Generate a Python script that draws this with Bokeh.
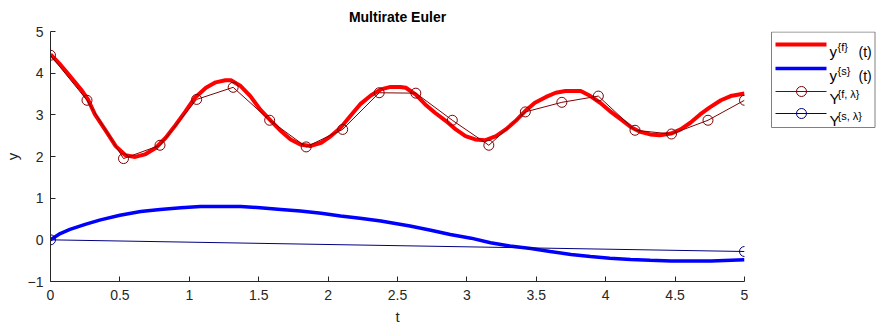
from bokeh.plotting import figure
from bokeh.models import Range1d, FixedTicker
from bokeh.layouts import row
from bokeh.embed import file_html
from bokeh.resources import INLINE
from bokeh.core.properties import value

# ---- data ----
t_cont_f = [0.00, 0.07, 0.14, 0.22, 0.27, 0.32, 0.40, 0.47, 0.54, 0.61, 0.68, 0.76, 0.83, 0.90, 0.97,
            1.04, 1.12, 1.19, 1.26, 1.30, 1.37, 1.44, 1.51, 1.59, 1.66, 1.73, 1.80, 1.87, 1.95, 2.02,
            2.09, 2.16, 2.23, 2.31, 2.38, 2.45, 2.52, 2.56, 2.63, 2.70, 2.77, 2.85, 2.92, 2.99, 3.06,
            3.13, 3.21, 3.28, 3.35, 3.42, 3.49, 3.57, 3.64, 3.71, 3.78, 3.82, 3.89, 3.96, 4.03, 4.11,
            4.18, 4.25, 4.32, 4.39, 4.47, 4.54, 4.61, 4.68, 4.75, 4.83, 4.90, 5.00]
y_cont_f = [4.45, 4.21, 3.93, 3.61, 3.37, 3.01, 2.61, 2.25, 2.03, 1.99, 2.05, 2.21, 2.45, 2.75, 3.07,
            3.41, 3.65, 3.78, 3.83, 3.83, 3.69, 3.45, 3.13, 2.85, 2.61, 2.41, 2.29, 2.25, 2.33, 2.49,
            2.69, 2.97, 3.25, 3.47, 3.61, 3.67, 3.67, 3.65, 3.49, 3.25, 3.05, 2.85, 2.65, 2.49, 2.41,
            2.39, 2.49, 2.65, 2.85, 3.09, 3.29, 3.43, 3.53, 3.57, 3.57, 3.57, 3.45, 3.29, 3.09, 2.89,
            2.71, 2.59, 2.53, 2.51, 2.55, 2.65, 2.81, 3.01, 3.18, 3.35, 3.45, 3.51]

t_cont_s = [0.00, 0.07, 0.14, 0.25, 0.36, 0.50, 0.65, 0.79, 0.94, 1.08, 1.22, 1.37, 1.51, 1.66, 1.80,
            1.95, 2.09, 2.23, 2.38, 2.59, 2.74, 2.88, 3.03, 3.17, 3.31, 3.46, 3.60, 3.75, 3.89, 4.03,
            4.18, 4.32, 4.47, 4.61, 4.76, 5.00]
y_cont_s = [0.00, 0.15, 0.25, 0.37, 0.48, 0.59, 0.68, 0.73, 0.77, 0.80, 0.80, 0.80, 0.77, 0.73, 0.69,
            0.64, 0.57, 0.52, 0.45, 0.33, 0.23, 0.13, 0.04, -0.07, -0.15, -0.21, -0.28, -0.35, -0.40, -0.44,
            -0.47, -0.49, -0.51, -0.51, -0.51, -0.48]

t_fast = [0.000, 0.263, 0.526, 0.789, 1.053, 1.316, 1.579, 1.842, 2.105, 2.368,
          2.632, 2.895, 3.158, 3.421, 3.684, 3.947, 4.211, 4.474, 4.737, 5.000]
Y_fast = [4.43, 3.35, 1.95, 2.27, 3.37, 3.66, 2.87, 2.23, 2.65, 3.53,
          3.52, 2.87, 2.27, 3.07, 3.30, 3.45, 2.63, 2.54, 2.87, 3.35]

t_slow = [0.0, 5.0]
Y_slow = [0.0, -0.28]

x_ticks = [0, 0.5, 1, 1.5, 2, 2.5, 3, 3.5, 4, 4.5, 5]
y_ticks = [-1, 0, 1, 2, 3, 4, 5]

title_text = "Multirate Euler"
x_label = "t"
y_label = "y"

RED = "#FF0000"
BLUE = "#0000FF"
DRED = "#800000"
DBLUE = "#000080"
AX = "#262626"
FONT = "Liberation Sans"

p = figure(frame_width=694, frame_height=250, x_range=Range1d(0, 5), y_range=Range1d(-1, 5),
           output_backend="svg", toolbar_location=None,
           min_border_left=0, min_border_right=9, min_border_top=0, min_border_bottom=0)
p.outline_line_color = None
p.xgrid.visible = False
p.ygrid.visible = False
p.title.text = title_text
p.title.align = "center"
p.title.text_font = FONT
p.title.text_font_size = "14px"
p.title.text_font_style = "bold"
p.title.text_color = "black"
p.title.standoff = 13
p.title.offset = 0

for ax, ticks, lab in ((p.xaxis[0], x_ticks, x_label), (p.yaxis[0], y_ticks, y_label)):
    ax.ticker = FixedTicker(ticks=ticks)
    ax.axis_label = lab
    ax.axis_line_color = AX
    ax.major_tick_line_color = AX
    ax.major_tick_in = 5
    ax.major_tick_out = 0
    ax.minor_tick_line_color = None
    ax.major_label_text_font = FONT
    ax.major_label_text_font_size = "14px"
    ax.major_label_text_color = AX
    ax.axis_label_text_font = FONT
    ax.axis_label_text_font_size = "15px"
    ax.axis_label_text_font_style = "normal"
    ax.axis_label_text_color = AX
p.xaxis[0].major_label_standoff = 8
p.xaxis[0].axis_label_standoff = 5
p.yaxis[0].major_label_standoff = 7
p.yaxis[0].axis_label_standoff = 4

p.line(t_cont_f, y_cont_f, line_color=RED, line_width=4)
p.line(t_cont_s, y_cont_s, line_color=BLUE, line_width=3.5)
p.line(t_fast, Y_fast, line_color=DRED, line_width=1)
p.scatter(t_fast, Y_fast, marker="circle", size=10, fill_color=None, line_color=DRED, line_width=1)
p.line(t_slow, Y_slow, line_color=DBLUE, line_width=1)
p.scatter(t_slow, Y_slow, marker="circle", size=10, fill_color=None, line_color=DBLUE, line_width=1)

# ---- legend panel (pixel-like coordinates, frame aligned with the plot frame) ----
L = figure(frame_width=124, frame_height=250, x_range=Range1d(0, 124), y_range=Range1d(250, 0),
           output_backend="svg", toolbar_location=None, min_border=0)
L.axis.visible = False
L.grid.visible = False
L.outline_line_color = None

L.quad(left=[18], right=[121.5], top=[0.5], bottom=[96], fill_color="white",
       line_color="#808080", line_width=1)
rows_y = [13, 37, 60, 82]
L.line([22, 73], [rows_y[0]] * 2, line_color=RED, line_width=4)
L.line([22, 73], [rows_y[1]] * 2, line_color=BLUE, line_width=3.5)
L.line([22, 73], [rows_y[2]] * 2, line_color=DRED, line_width=1)
L.scatter([48], [rows_y[2]], marker="circle", size=10, fill_color=None, line_color=DRED)
L.line([22, 73], [rows_y[3]] * 2, line_color=DBLUE, line_width=1)
L.scatter([48], [rows_y[3]], marker="circle", size=10, fill_color=None, line_color=DBLUE)

base = ["y", "y", "Y", "Y"]
sup = ["{f}", "{s}", "{f, \u03bb}", "{s, \u03bb}"]
tail = ["(t)", "(t)"]
L.text([76] * 4, [y + 7 for y in rows_y], text=base, text_baseline="alphabetic",
       text_font=value(FONT), text_font_size="15px", text_color="black")
L.text([84] * 4, [y + 2 for y in rows_y], text=sup, text_baseline="alphabetic",
       text_font=value(FONT), text_font_size="11px", text_color="black")
L.text([105] * 2, [y + 7 for y in rows_y[:2]], text=tail, text_baseline="alphabetic",
       text_font=value(FONT), text_font_size="14px", text_color="black")

layout = row(p, L)
html = file_html(layout, INLINE)
html = html.replace("<head>", "<head><style>html, body { overflow: hidden; }</style>", 1)
open("out.html", "w").write(html)
